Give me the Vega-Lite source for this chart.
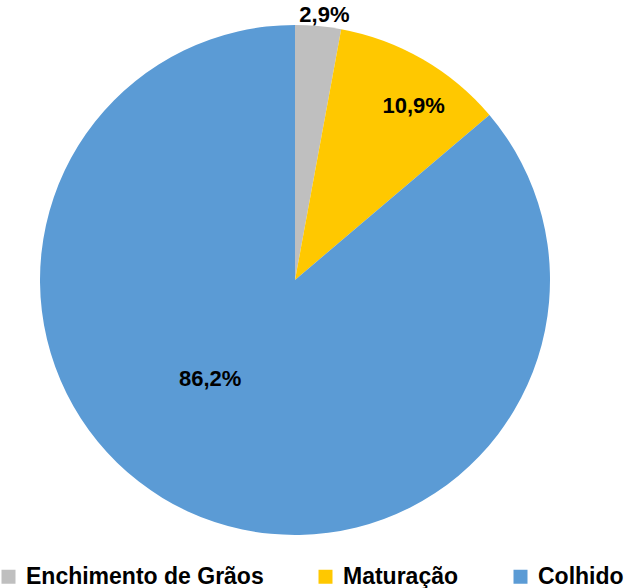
{
  "$schema": "https://vega.github.io/schema/vega-lite/v6.json",
  "width": 590,
  "height": 560,
  "autosize": "none",
  "padding": {"left": 0, "top": 0, "right": 45, "bottom": 28},
  "background": "white",
  "config": {"view": {"stroke": null}, "font": "Liberation Sans"},
  "data": {
    "values": [
      {"cat": "Enchimento de Grãos", "value": 2.9, "ord": 1, "label": "2,9%"},
      {"cat": "Maturação", "value": 10.9, "ord": 2, "label": "10,9%"},
      {"cat": "Colhido", "value": 86.2, "ord": 3, "label": "86,2%"}
    ]
  },
  "encoding": {
    "theta": {"field": "value", "type": "quantitative", "stack": true},
    "order": {"field": "ord", "type": "ordinal"}
  },
  "layer": [
    {
      "mark": {"type": "arc", "outerRadius": 255, "stroke": null},
      "encoding": {
        "color": {
          "field": "cat",
          "type": "nominal",
          "sort": ["Enchimento de Grãos", "Maturação", "Colhido"],
          "scale": {"domain": ["Enchimento de Grãos", "Maturação", "Colhido"], "range": ["#BFBFBF", "#FFC800", "#5B9BD5"]},
          "legend": {
            "title": null,
            "orient": "none",
            "direction": "horizontal",
            "legendX": -3,
            "legendY": 565,
            "symbolType": "square",
            "symbolSize": 196,
            "symbolStrokeWidth": 0,
            "labelFont": "Liberation Sans",
            "labelFontSize": 23,
            "labelFontWeight": "bold",
            "labelColor": "black",
            "labelOffset": 6,
            "columnPadding": 50,
            "labelLimit": 400
          }
        }
      }
    },
    {
      "mark": {"type": "text", "radius": 268, "dx": 5, "dy": 2, "fontSize": 22, "fontWeight": "bold", "color": "black", "font": "Liberation Sans"},
      "encoding": {"text": {"condition": {"test": "datum.cat === 'Enchimento de Grãos'", "field": "label"}, "value": ""}}
    },
    {
      "mark": {"type": "text", "radius": 211, "dx": 13, "dy": 9, "fontSize": 22, "fontWeight": "bold", "color": "black", "font": "Liberation Sans"},
      "encoding": {"text": {"condition": {"test": "datum.cat === 'Maturação'", "field": "label"}, "value": ""}}
    },
    {
      "mark": {"type": "text", "radius": 133, "dx": -29, "dy": -22, "fontSize": 22, "fontWeight": "bold", "color": "black", "font": "Liberation Sans"},
      "encoding": {"text": {"condition": {"test": "datum.cat === 'Colhido'", "field": "label"}, "value": ""}}
    }
  ]
}
